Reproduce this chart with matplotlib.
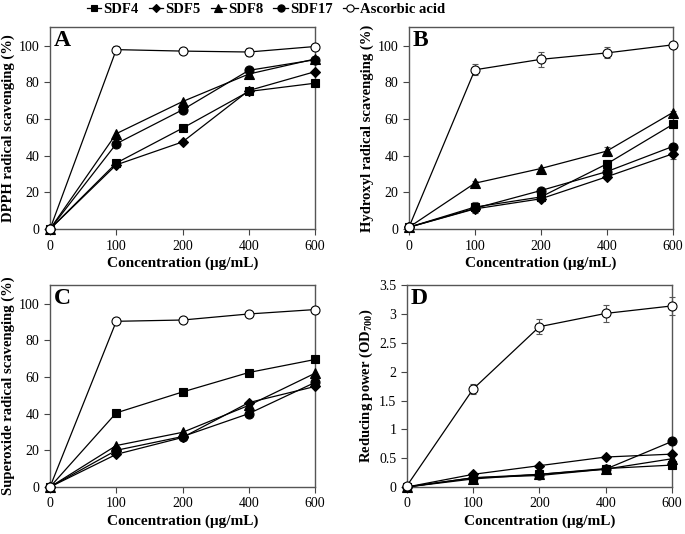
import matplotlib.pyplot as plt
import numpy as np

plt.rcParams['font.family'] = ['Liberation Serif', 'DejaVu Serif']
plt.rcParams['mathtext.fontset'] = 'custom'
plt.rcParams['mathtext.rm'] = 'Liberation Serif'
plt.rcParams['mathtext.bf'] = 'Liberation Serif:bold'

conc = ['0', '100', '200', '400', '600']
series = ['SDF4', 'SDF5', 'SDF8', 'SDF17', 'Ascorbic acid']

# DPPH
a_sdf4 = [0, 36, 55, 75, 79.5]
a_sdf5 = [0, 35, 47.5, 75.5, 85.8]
a_sdf8 = [0, 52, 69.5, 84.5, 92.7]
a_sdf17 = [0, 46.5, 65, 86.5, 92.3]
a_vc = [0, 97.8, 97, 96.5, 99.5]
a_vc_err = [0, 2, 0.8, 2, 0.8]

# Hydroxyl
b_sdf4 = [1, 12, 17.5, 35.5, 57]
b_sdf5 = [1, 11, 16.5, 28.5, 41]
b_sdf8 = [1, 25, 33, 42.5, 63.5]
b_sdf17 = [1, 11.3, 21, 31.3, 45]
b_vc = [1, 86.8, 92.5, 96, 100.4]
b_vc_err = [0, 3, 4, 3, 1.5]
b_sdf4_err = [0, 3, 1, 2, 1]
b_sdf8_err = [0, 1, 1, 2.5, 1]
b_sdf5_err = [0, 1, 1, 1, 3]

# Superoxide
c_sdf4 = [0, 40.4, 51.8, 62.4, 69.5]
c_sdf5 = [0, 17.8, 27, 46, 54.8]
c_sdf8 = [0, 22.6, 29.8, 44.5, 62]
c_sdf17 = [0, 20, 27.5, 40, 57]
c_vc = [0, 90.3, 91, 94.3, 96.7]

# Reducing power
d_sdf4 = [0, 0.16, 0.22, 0.32, 0.38]
d_sdf5 = [0, 0.22, 0.37, 0.52, 0.57]
d_sdf8 = [0, 0.14, 0.22, 0.31, 0.49]
d_sdf17 = [0, 0.16, 0.20, 0.31, 0.79]
d_vc = [0.02, 1.70, 2.78, 3.01, 3.14]
d_vc_err = [0, 0.08, 0.13, 0.15, 0.15]

markers = ['s', 'D', '^', 'o', 'o']
msizes = [6, 5, 6.5, 6.5, 6.5]
faces = ['k', 'k', 'k', 'k', 'w']

fig = plt.figure(figsize=(6.85, 5.34), dpi=100)
axA = fig.add_axes([0.073, 0.571, 0.387, 0.378])
axB = fig.add_axes([0.597, 0.571, 0.385, 0.378])
axC = fig.add_axes([0.073, 0.088, 0.387, 0.378])
axD = fig.add_axes([0.594, 0.088, 0.387, 0.378])

panels = [
    (axA, 'A', [a_sdf4, a_sdf5, a_sdf8, a_sdf17, a_vc],
     [None, None, None, None, a_vc_err], 'DPPH radical scavenging (%)', (0, 110), np.arange(0, 101, 20)),
    (axB, 'B', [b_sdf4, b_sdf5, b_sdf8, b_sdf17, b_vc],
     [b_sdf4_err, b_sdf5_err, b_sdf8_err, None, b_vc_err], 'Hydroxyl radical scavenging (%)', (0, 110), np.arange(0, 101, 20)),
    (axC, 'C', [c_sdf4, c_sdf5, c_sdf8, c_sdf17, c_vc],
     [None] * 5, 'Superoxide radical scavenging (%)', (0, 110), np.arange(0, 101, 20)),
    (axD, 'D', [d_sdf4, d_sdf5, d_sdf8, d_sdf17, d_vc],
     [None, None, None, None, d_vc_err], r'Reducing power (OD$_{\mathbf{700}}$)', (0, 3.5), np.arange(0, 3.51, 0.5)),
]

x = np.arange(len(conc))
handles = []
for ax, letter, ys, errs, ylabel, ylim, yt in panels:
    for i, (y, e) in enumerate(zip(ys, errs)):
        if e is not None:
            ax.errorbar(x, y, yerr=e, fmt='none', ecolor='#555555', elinewidth=0.8,
                        capsize=2.5, capthick=0.8, zorder=2, clip_on=False)
        ln, = ax.plot(x, y, color='k', lw=0.9, marker=markers[i], ms=msizes[i],
                      mfc=faces[i], mec='k', mew=0.8, clip_on=False, zorder=3, label=series[i])
        if ax is axA:
            handles.append(ln)
    ax.set_xlim(0, 4)
    ax.set_ylim(*ylim)
    ax.set_xticks(x)
    ax.set_xticklabels(conc)
    ax.set_yticks(yt)
    if ax is axD:
        ax.set_yticklabels(['0', '0.5', '1', '1.5', '2', '2.5', '3', '3.5'])
    ax.tick_params(direction='out', labelsize=10, length=4, color='#444444', width=0.8, pad=3.5)
    for s in ax.spines.values():
        s.set_color('#555555')
        s.set_linewidth(1)
    ax.set_xlabel('Concentration (\u03bcg/mL)', fontsize=11, fontweight='bold', labelpad=3)
    ax.set_ylabel(ylabel, fontsize=10.5, fontweight='bold', labelpad=3)
    ax.text(0.015, 0.985, letter, transform=ax.transAxes, fontsize=17, fontweight='bold',
            va='top', ha='left')

fig.legend(handles=handles, loc='center', bbox_to_anchor=(0.388, 0.982), ncol=5, frameon=False,
           handlelength=1.0, handletextpad=0.15, columnspacing=0.7, borderaxespad=0,
           markerscale=0.8, prop={'weight': 'bold', 'size': 10.5})

fig.savefig('out.png', dpi=100)
